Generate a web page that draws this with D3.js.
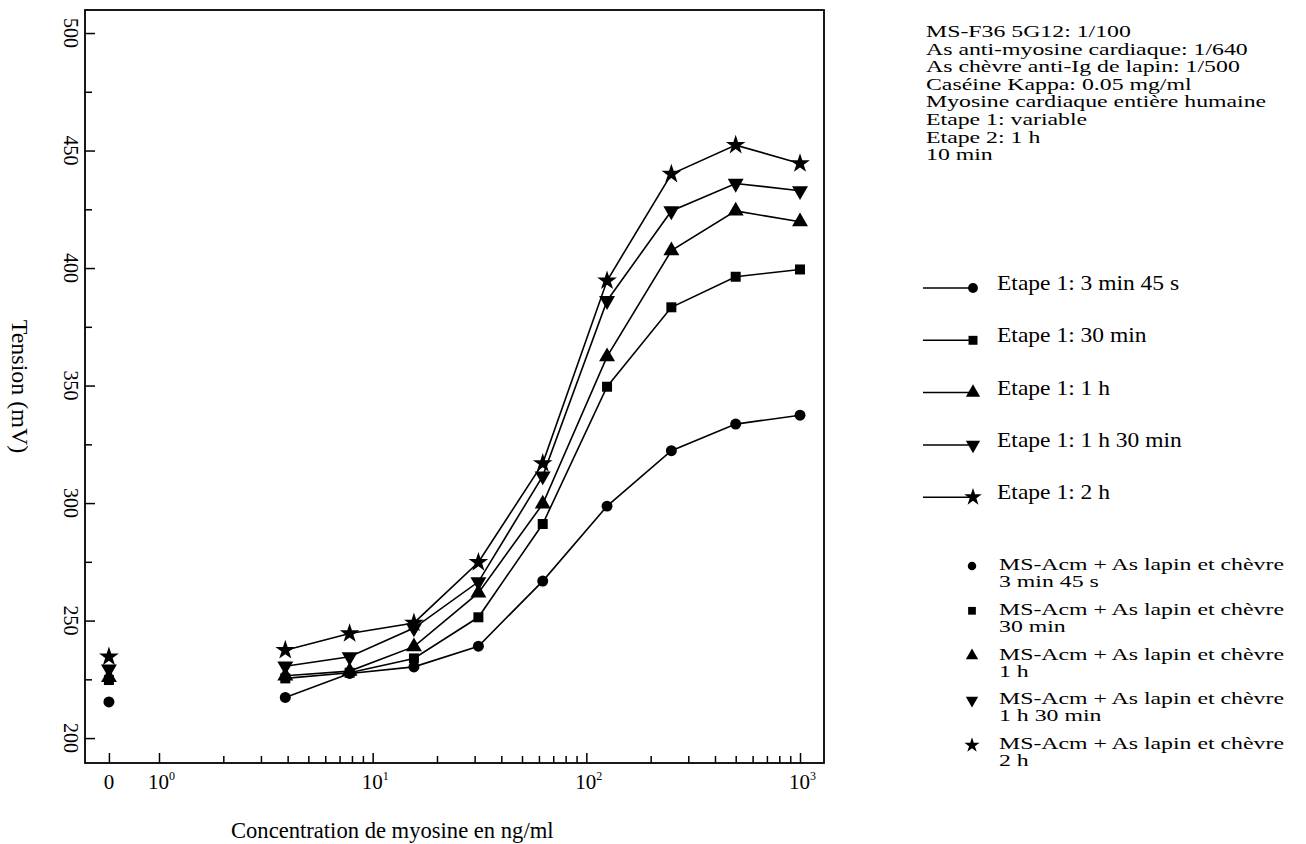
<!DOCTYPE html>
<html>
<head>
<meta charset="utf-8">
<script src="https://cdn.jsdelivr.net/npm/d3@7"></script>
<style>
  body { margin: 0; background: #fff; }
  svg { font-family: "Liberation Serif", "Times New Roman", serif; }
</style>
</head>
<body>
<script>
// concentrations (ng/ml), doubling dilutions
let conc = [3.9, 7.8, 15.6, 31.25, 62.5, 125, 250, 500, 1000]

// Etape 1 durations
let seriesNames = ['3 min 45 s', '30 min', '1 h', '1 h 30 min', '2 h']
let shapes = ['circle', 'square', 'triangle', 'triangleDown', 'star']

// tension (mV) per series
let t345 = [217.3, 227.5, 230.3, 239.1, 266.8, 298.7, 322.3, 333.6, 337.4]
let t30 = [225.4, 227.8, 233.9, 251.4, 291.1, 349.5, 383.3, 396.3, 399.4]
let t1h = [226.5, 228.5, 238.9, 261.8, 299.6, 362.3, 407.4, 424.3, 419.7]
let t1h30 = [230.6, 234.6, 246.8, 266.5, 311.5, 386.1, 424.3, 436.0, 432.9]
let t2h = [237.4, 244.5, 249.0, 274.8, 316.9, 394.6, 440.0, 452.3, 444.5]

// blanks (0 ng/ml)
let blank = [215.4, 224.7, 225.8, 229.4, 234.6]

let yMajor = [200, 250, 300, 350, 400, 450, 500]
let yMinor = [225, 275, 325, 375, 425, 475]
let decades = [1, 10, 100, 1000]
let decadeLabels = ['0', '1', '2', '3']

let header = [
  'MS-F36 5G12: 1/100',
  'As anti-myosine cardiaque: 1/640',
  'As chèvre anti-Ig de lapin: 1/500',
  'Caséine Kappa: 0.05 mg/ml',
  'Myosine cardiaque entière humaine',
  'Etape 1: variable',
  'Etape 2: 1 h',
  '10 min'
]

let width = 1306
let height = 844
let plotLeft = 85, plotRight = 824, plotTop = 10, plotBottom = 763
let zeroPos = 0.583 // where "0" sits on the log axis

let svg = d3.select('body').append('svg')
  .attr('width', width)
  .attr('height', height)

//scales
let xScale = d3.scaleLog().domain([0.4505, 1295]).range([plotLeft, plotRight])
let yScale = d3.scaleLinear().domain([189.4, 509.8]).range([plotBottom, plotTop])

let symbolTypes = {
  circle: [d3.symbolCircle, 95, 0],
  square: [d3.symbolSquare, 100, 0],
  triangle: [d3.symbolTriangle, 110, 0],
  triangleDown: [d3.symbolTriangle, 110, 180],
  star: [d3.symbolStar, 120, 0]
}
function marker(sel, shape, scale) {
  let [type, size, rot] = symbolTypes[shape]
  sel.append('path')
    .attr('d', d3.symbol().type(type).size(size * (scale || 1))())
    .attr('transform', `rotate(${rot})`)
    .attr('fill', '#000')
}

// frame
svg.append('rect')
  .attr('x', plotLeft).attr('y', plotTop)
  .attr('width', plotRight - plotLeft).attr('height', plotBottom - plotTop)
  .attr('fill', 'none').attr('stroke', '#000').attr('stroke-width', 1.8)

// y axis ticks (inward)
svg.append('g')
  .attr('transform', `translate(${plotLeft},0)`)
  .call(d3.axisRight(yScale).tickValues(yMajor).tickSize(10).tickSizeOuter(0).tickFormat(''))
  .call(g => g.select('.domain').remove())
svg.append('g')
  .attr('transform', `translate(${plotLeft},0)`)
  .call(d3.axisRight(yScale).tickValues(yMinor).tickSize(7).tickSizeOuter(0).tickFormat(''))
  .call(g => g.select('.domain').remove())

svg.append('g').selectAll('text')
  .data(yMajor)
  .enter()
  .append('text')
  .attr('transform', d => `translate(64,${yScale(d)}) rotate(90)`)
  .attr('text-anchor', 'middle')
  .attr('font-size', 20)
  .text(d => d)

// x axis ticks (inward)
let xMinor = []
decades.slice(0, 3).forEach(d => {
  for (let k = 2; k <= 9; k++) xMinor.push(d * k)
})
let xg = svg.append('g').attr('transform', `translate(0,${plotBottom})`)
xg.append('g')
  .call(d3.axisTop(xScale).tickValues(decades.concat([zeroPos])).tickSize(10).tickSizeOuter(0).tickFormat(''))
  .call(g => g.select('.domain').remove())
xg.append('g')
  .call(d3.axisTop(xScale).tickValues(xMinor).tickSize(7).tickSizeOuter(0).tickFormat(''))
  .call(g => g.select('.domain').remove())
svg.selectAll('.tick line').attr('stroke-width', 1.5)

svg.append('text')
  .attr('x', xScale(zeroPos)).attr('y', 789)
  .attr('text-anchor', 'middle').attr('font-size', 21)
  .text('0')

let decText = svg.append('g').selectAll('text')
  .data(decades)
  .enter()
  .append('text')
  .attr('x', d => xScale(d) - 11)
  .attr('y', 789)
  .attr('font-size', 21)
decText.append('tspan').text('10')
decText.append('tspan')
  .attr('dy', -9).attr('font-size', 12)
  .text((d, i) => decadeLabels[i])

// axis titles
svg.append('text')
  .attr('x', 231).attr('y', 838)
  .attr('font-size', 22.6)
  .text('Concentration de myosine en ng/ml')
svg.append('text')
  .attr('transform', `translate(12,${(plotTop + plotBottom) / 2}) rotate(90)`)
  .attr('text-anchor', 'middle')
  .attr('font-size', 24)
  .text('Tension (mV)')

// series
let series = [t345, t30, t1h, t1h30, t2h]
let line = d3.line()
  .x((d, i) => xScale(conc[i]))
  .y(d => yScale(d))

series.forEach((vals, s) => {
  svg.append('path')
    .datum(vals)
    .attr('d', line)
    .attr('fill', 'none')
    .attr('stroke', '#000')
    .attr('stroke-width', 1.6)

  svg.append('g').selectAll('g')
    .data(vals)
    .enter()
    .append('g')
    .attr('transform', (d, i) => `translate(${xScale(conc[i])},${yScale(d)})`)
    .each(function () { marker(d3.select(this), shapes[s]) })
})

// blanks at 0
svg.append('g').selectAll('g')
  .data(blank)
  .enter()
  .append('g')
  .attr('transform', d => `translate(${xScale(zeroPos)},${yScale(d)})`)
  .each(function (d, i) { marker(d3.select(this), shapes[i]) })

// header text (tight leading, so a smaller font stretched sideways)
svg.append('g').selectAll('text')
  .data(header)
  .enter()
  .append('text')
  .attr('transform', (d, i) => `translate(926,${37 + i * 17.6}) scale(1.4,1)`)
  .attr('font-size', 17)
  .text(d => d)

// legend: lines with markers
let leg1 = svg.append('g').selectAll('g')
  .data(seriesNames)
  .enter()
  .append('g')
  .attr('transform', (d, i) => `translate(973,${288 + i * 52.3})`)
leg1.append('line')
  .attr('x1', -50).attr('x2', 0)
  .attr('stroke', '#000').attr('stroke-width', 1.5)
leg1.each(function (d, i) { marker(d3.select(this), shapes[i], 0.8) })
leg1.append('text')
  .attr('transform', 'translate(24,2) scale(1.12,1)')
  .attr('font-size', 21)
  .text(d => 'Etape 1: ' + d)

// legend: markers only (blanks)
let leg2 = svg.append('g').selectAll('g')
  .data(seriesNames)
  .enter()
  .append('g')
  .attr('transform', (d, i) => `translate(972,${566 + i * 44.8})`)
leg2.each(function (d, i) { marker(d3.select(this), shapes[i], 0.6) })
leg2.append('text')
  .attr('transform', 'translate(27,4) scale(1.4,1)')
  .attr('font-size', 17)
  .text('MS-Acm + As lapin et chèvre')
leg2.append('text')
  .attr('transform', 'translate(27,21) scale(1.4,1)')
  .attr('font-size', 17)
  .text(d => d)
</script>
</body>
</html>
